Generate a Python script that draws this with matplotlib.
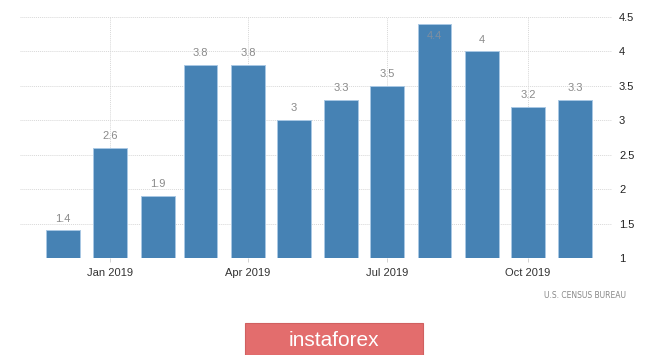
import matplotlib
matplotlib.use("Agg")
import matplotlib.pyplot as plt
import datetime as dt

months = ["2018-12", "2019-01", "2019-02", "2019-03", "2019-04", "2019-05",
          "2019-06", "2019-07", "2019-08", "2019-09", "2019-10", "2019-11"]
values = [1.4, 2.6, 1.9, 3.8, 3.8, 3.0, 3.3, 3.5, 4.4, 4.0, 3.2, 3.3]
labels = ["1.4", "2.6", "1.9", "3.8", "3.8", "3", "3.3", "3.5", "4.4", "4", "3.2", "3.3"]
xtick_months = ["2019-01", "2019-04", "2019-07", "2019-10"]
xtick_labels = ["Jan 2019", "Apr 2019", "Jul 2019", "Oct 2019"]
yticks = [1, 1.5, 2, 2.5, 3, 3.5, 4, 4.5]
ytick_labels = ["1", "1.5", "2", "2.5", "3", "3.5", "4", "4.5"]
source = "U.S. CENSUS BUREAU"
brand = "instaforex"

plt.rcParams['font.family'] = ['Liberation Sans', 'DejaVu Sans']

def to_date(s):
    y, m = s.split("-")
    return dt.date(int(y), int(m), 1)

dates = [to_date(m) for m in months]
xt = [to_date(m) for m in xtick_months]

fig = plt.figure(figsize=(6.65, 3.55), dpi=100)
ax = fig.add_axes([20/665, 1-258/355, (612-20)/665, (258-17)/355])

bottom = 1.0
ax.bar(dates, [v - bottom for v in values], bottom=bottom, width=22,
       color="#4682b4", edgecolor="#a9c8e4", linewidth=0.7, zorder=3)

ax.set_xlim(dt.date(2018, 11, 3), dt.date(2019, 11, 25))
ax.set_ylim(1, 4.5)

for d, v, lab in zip(dates, values, labels):
    if v >= 4.3:
        ax.text(d, v - 0.1, lab, ha="center", va="top", fontsize=8,
                color="#7f8fa0", zorder=4)
    else:
        ax.text(d, v + 0.1, lab, ha="center", va="bottom", fontsize=8,
                color="#8a8a8a", zorder=4)

ax.set_yticks(yticks)
ax.set_yticklabels(ytick_labels)
ax.yaxis.tick_right()
ax.set_xticks(xt)
ax.set_xticklabels(xtick_labels)
ax.tick_params(axis="y", length=0, pad=5, labelsize=8, labelcolor="#222222")
ax.tick_params(axis="x", length=3, width=0.6, color="#cccccc", pad=4,
               labelsize=8, labelcolor="#333333")
for lbl in ax.get_yticklabels():
    lbl.set_horizontalalignment("left")

ax.grid(True, axis="both", color="#d8d8d8", linestyle=(0, (1, 1)), linewidth=0.7, zorder=0)
for s in ax.spines.values():
    s.set_visible(False)

fig.text(626/665, 1-295/355, source, ha="right", va="center", fontsize=5.5,
         color="#888888", family=['DejaVu Sans'])

rect = plt.Rectangle((245/665, 0), (423-245)/665, (355-323)/355,
                     transform=fig.transFigure, facecolor="#e36d6d",
                     edgecolor="#d06060", linewidth=0.8)
fig.patches.append(rect)
fig.text(334/665, 1-340/355, brand, ha="center", va="center", fontsize=15,
         color="white")

fig.savefig("out.png", dpi=100)
